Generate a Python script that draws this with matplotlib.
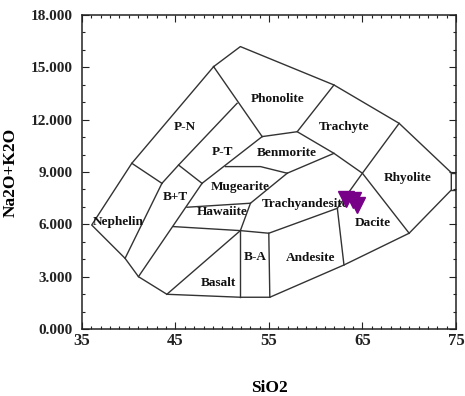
"""
TAS diagram (Na2O+K2O vs SiO2) with field boundaries and sample points.
"""

import matplotlib

matplotlib.use("Agg")
import matplotlib.pyplot as plt
import matplotlib.ticker as mticker

plt.rcParams["font.family"] = ["Liberation Serif", "DejaVu Serif"]

LINE_COL = "#333333"
PT_COL = "#780088"

# ── field boundaries (SiO2, Na2O+K2O) ────────────────────────────────────────
OUTER_X = [49.08, 51.94, 61.95, 68.92, 74.50, 74.50, 69.99, 63.02, 55.09,
           51.94, 44.08, 41.04, 39.61, 36.04, 40.33, 49.08]
OUTER_Y = [15.04, 16.19, 13.99, 11.79, 8.96, 7.97, 5.49, 3.67, 1.82,
           1.82, 1.99, 3.00, 4.05, 5.96, 9.50, 15.04]

INNER_LINES = [
    ([49.08, 54.27], [15.04, 11.03]),            # phonolite left
    ([54.27, 58.02, 61.95], [11.03, 11.31, 13.99]),
    ([58.02, 61.95, 64.99, 69.99], [11.31, 10.07, 8.93, 5.49]),
    ([68.92, 64.99, 62.31], [11.79, 8.93, 6.92]),  # rhyolite left
    ([62.31, 63.02], [6.92, 3.67]),              # andesite / dacite
    ([62.31, 54.98, 51.94], [6.92, 5.49, 5.64]),
    ([54.98, 55.09], [5.49, 1.82]),
    ([51.94, 51.94], [5.64, 1.82]),
    ([51.94, 44.08], [5.64, 1.99]),              # basalt left
    ([44.79, 51.94], [5.87, 5.64]),              # hawaiite bottom
    ([46.23, 53.02], [6.98, 7.21]),              # hawaiite top
    ([56.95, 53.02, 51.94], [8.93, 7.21, 5.64]),
    ([56.95, 61.95], [8.93, 10.07]),             # benmorite bottom
    ([50.34, 54.09, 56.95], [9.31, 9.31, 8.93]),  # mugearite top
    ([47.84, 54.27], [8.35, 11.03]),
    ([47.84, 41.04], [8.35, 3.00]),              # b+t right
    ([45.33, 47.84], [9.40, 8.35]),
    ([43.55, 45.33, 51.59], [8.35, 9.40, 12.94]),  # p-n right
    ([40.33, 43.55], [9.50, 8.35]),
    ([43.55, 39.61], [8.35, 4.05]),
    ([74.50, 75.00], [8.96, 8.96]),
    ([74.50, 75.00], [7.97, 7.97]),
]

FIELD_NAMES = ["Phonolite", "Trachyte", "P-N", "P-T", "Benmorite", "Rhyolite",
               "B+T", "Mugearite", "Hawaiite", "Nephelin", "B-A", "Andesite",
               "Basalt", "Dacite"]
FIELD_X = [55.88, 63.02, 46.05, 49.98, 56.95, 69.82, 44.97, 51.94, 49.98,
           38.90, 53.55, 59.45, 49.62, 66.07]
FIELD_Y = [13.19, 11.60, 11.60, 10.13, 10.11, 8.64, 7.59, 8.12, 6.73,
           6.15, 4.11, 4.05, 2.65, 6.10]

X_TICKS = [35, 45, 55, 65, 75]
Y_TICKS = [0, 3, 6, 9, 12, 15, 18]

# samples
SIO2 = [63.20, 63.95, 64.38]
ALK = [7.45, 7.40, 7.11]


def main():
    fig = plt.figure(figsize=(4.65, 3.96), dpi=100)
    fig.patch.set_facecolor("white")
    ax = fig.add_axes([0.1763, 0.1692, 0.8043, 0.7929])

    ax.plot(OUTER_X, OUTER_Y, color=LINE_COL, lw=1.0, zorder=2)
    for xs, ys in INNER_LINES:
        ax.plot(xs, ys, color=LINE_COL, lw=1.0, zorder=2)

    for name, x, y in zip(FIELD_NAMES, FIELD_X, FIELD_Y):
        ax.text(x, y, name, ha="center", va="center", fontsize=9.5,
                fontweight="bold", color="#111111", zorder=3)
    ax.text(54.27, 7.15, "Trachyandesite", ha="left", va="center",
            fontsize=9.5, fontweight="bold", color="#111111", zorder=3)

    ax.plot(SIO2, ALK, linestyle="none", marker="v", markersize=11,
            color=PT_COL, markeredgecolor=PT_COL, zorder=5)

    ax.set_xlim(35, 75)
    ax.set_ylim(0, 18)
    ax.set_xticks(X_TICKS)
    ax.set_yticks(Y_TICKS)
    ax.xaxis.set_minor_locator(mticker.MultipleLocator(1))
    ax.yaxis.set_minor_locator(mticker.MultipleLocator(1))
    ax.yaxis.set_major_formatter(mticker.FormatStrFormatter("%.3f"))

    ax.tick_params(which="both", direction="in", top=True, right=True,
                   colors="#222222", width=0.8)
    ax.tick_params(which="major", length=5)
    ax.tick_params(which="minor", length=2.5)
    ax.tick_params(axis="x", pad=3)
    ax.tick_params(axis="y", pad=7)
    for lab in ax.get_xticklabels():
        lab.set_fontsize(12)
        lab.set_fontweight("bold")
    for lab in ax.get_yticklabels():
        lab.set_fontsize(11)
        lab.set_fontweight("bold")
    for sp in ax.spines.values():
        sp.set_linewidth(1.1)
        sp.set_color("#222222")

    ax.set_xlabel("SiO2", fontsize=12.5, fontweight="bold", labelpad=22)
    ax.set_ylabel("Na2O+K2O", fontsize=12.5, fontweight="bold", labelpad=8)

    fig.savefig("out.png", dpi=100, facecolor="white")
    plt.close(fig)


if __name__ == "__main__":
    main()
